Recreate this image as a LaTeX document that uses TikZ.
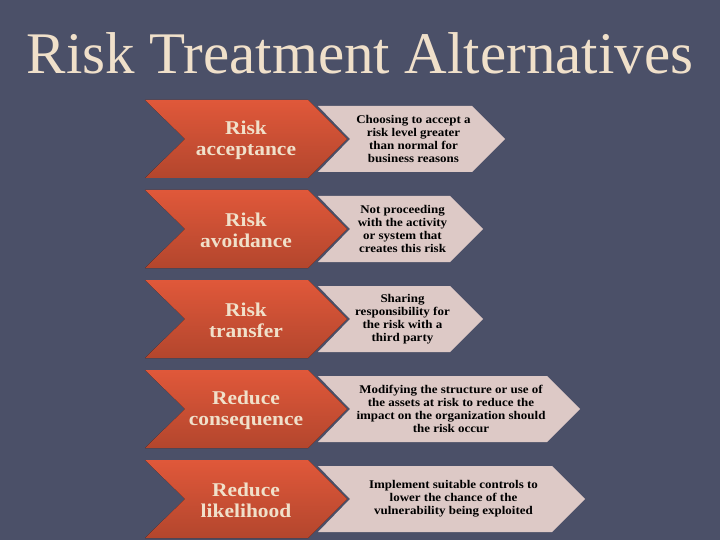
\documentclass[tikz,border=0pt]{standalone}
\usepackage{fontspec}
\setmainfont{Liberation Serif}
\newfontfamily\wideserif[FakeStretch=1.1]{Liberation Serif}
\usepackage{xcolor}
\definecolor{slate}{HTML}{4B5068}
\definecolor{rust}{HTML}{E0583A}
\definecolor{rustdark}{HTML}{B3462D}
\definecolor{blush}{HTML}{DDC9C6}
\definecolor{cream}{HTML}{F0E0CA}
\tikzset{
    altshape/.style={top color=rust,bottom color=rustdark},
    noteshape/.style={fill=blush},
    altlabel/.style={align=center,text=cream,font=\wideserif\bfseries\fontsize{19.5}{21}\selectfont},
    notelabel/.style={align=center,text=black,font=\wideserif\bfseries\fontsize{11.8}{13}\selectfont},
}

\begin{document}
\begin{tikzpicture}[x=1pt,y=-1pt]
        \fill[slate] (0,0) rectangle (720,540);
        \useasboundingbox (0,0) rectangle (720,540);
        \node[text=cream,font=\fontsize{59}{60}\selectfont] (title) at (360,53) {Risk Treatment Alternatives};
        \foreach \y/\r/\alt/\note [count=\i] in {
            139/505/{Risk\\acceptance}/{Choosing to accept a\\risk level greater\\than normal for\\business reasons},
            229/483/{Risk\\avoidance}/{Not proceeding\\with the activity\\or system that\\creates this risk},
            319/483/{Risk\\transfer}/{Sharing\\responsibility for\\the risk with a\\third party},
            409/580/{Reduce\\consequence}/{Modifying the structure or use of\\the assets at risk to reduce the\\impact on the organization should\\the risk occur},
            499/585/{Reduce\\likelihood}/{Implement suitable controls to\\lower the chance of the\\vulnerability being exploited}}
        {
            \fill[noteshape] (318,\y-33) -- (\r-33,\y-33) -- (\r,\y) -- (\r-33,\y+33) -- (318,\y+33) -- (350,\y) -- cycle;
            \fill[altshape] (145,\y-39) -- (308,\y-39) -- (347,\y) -- (308,\y+39) -- (145,\y+39) -- (185,\y) -- cycle;
            \node[altlabel] (alt\i) at (246,\y+1) {\alt};
            \node[notelabel] (note\i) at ({(318+\r)/2+2},\y) {\note};
        }
    \end{tikzpicture}
\end{document}
